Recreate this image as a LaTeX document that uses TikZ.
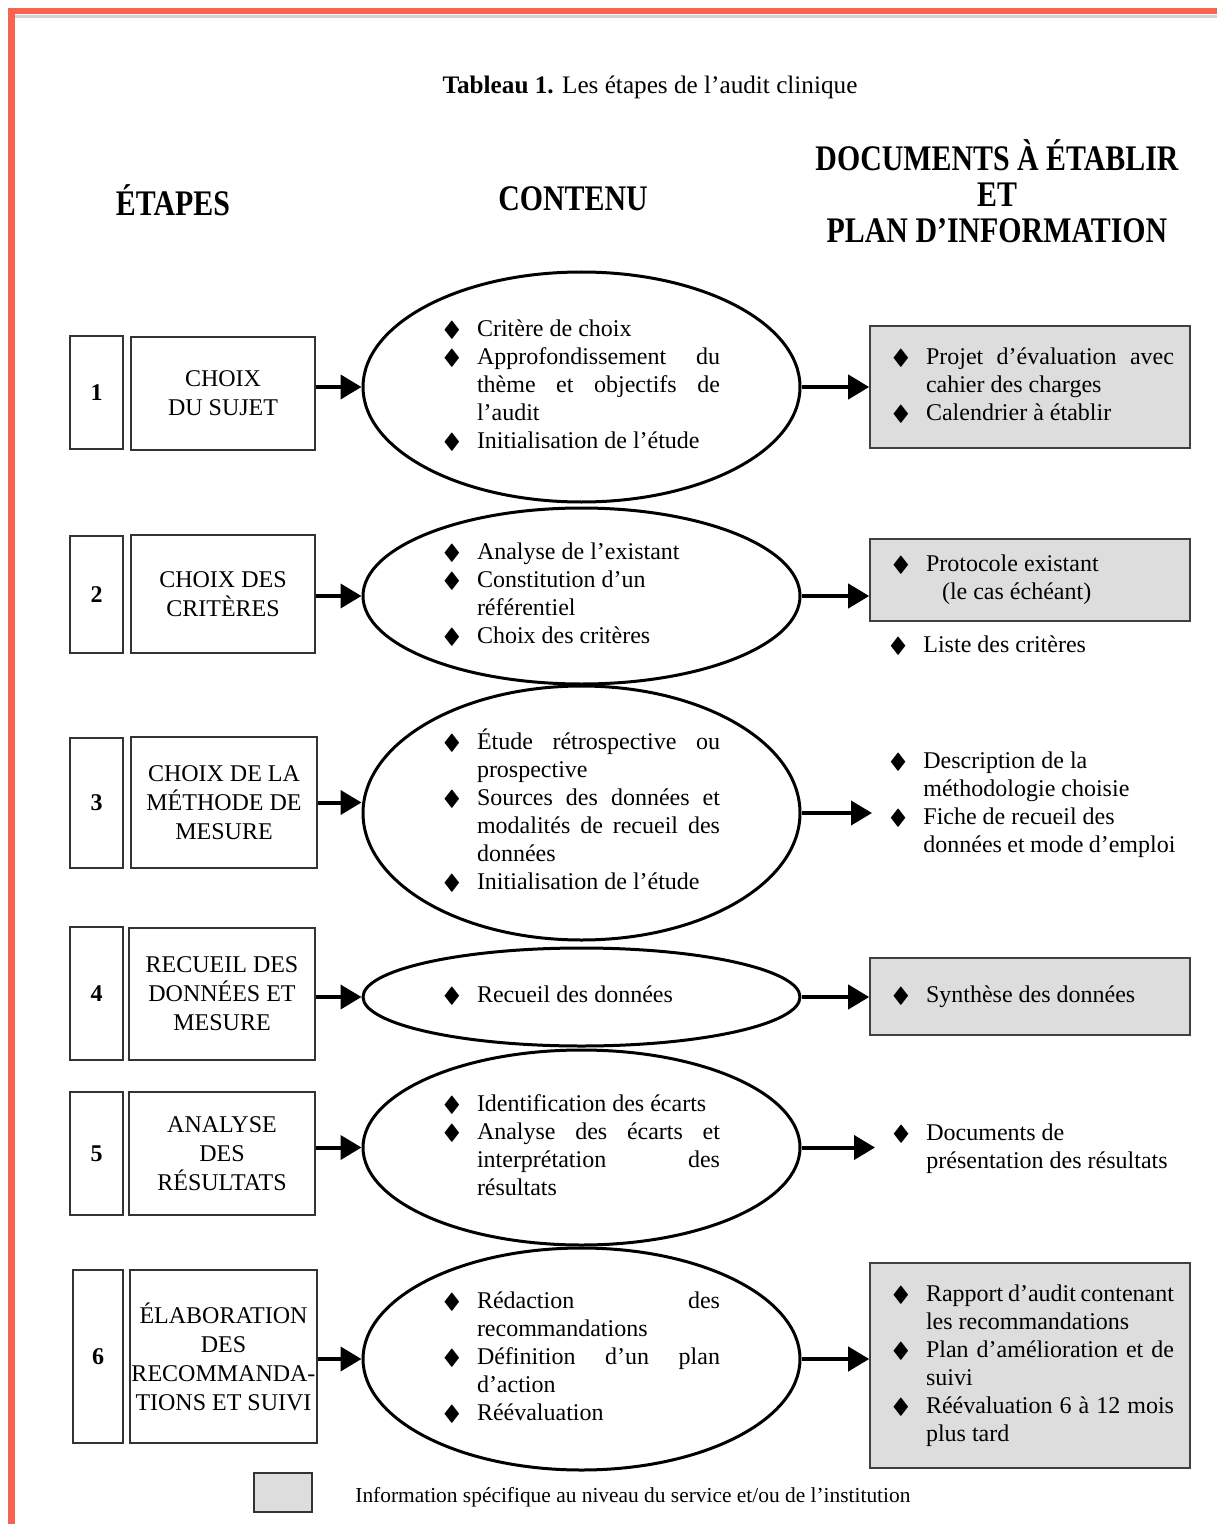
\documentclass[tikz,border=0pt]{standalone}
\usepackage{amssymb}
\usepackage{graphicx}
\usepackage{fontspec}
\setmainfont{Liberation Serif}
\usepackage{xcolor}
\usepackage{tikz}
\usetikzlibrary{shapes.geometric,arrows.meta}

\definecolor{bordure}{RGB}{247,101,82}
\definecolor{grisdoc}{RGB}{221,221,221}

\newcommand{\puce}{\scalebox{1.1}[0.9]{$\blacklozenge$}}
\newcommand{\etire}[2]{\makebox[#1][s]{#2}}
\newcommand{\entete}[1]{\scalebox{0.83}[1]{#1}}
\newenvironment{liste}[1]{\begin{tabular}{@{}p{17pt}@{}p{#1}@{}}}{\end{tabular}}

\begin{document}
\begin{tikzpicture}[x=0.5pt, y=-0.5pt,
  numbox/.style={draw=black!80, line width=0.8pt, minimum width=26.5pt, inner sep=0pt, font=\fontsize{12}{14}\selectfont\bfseries},
  etapebox/.style={draw=black!80, line width=0.8pt, inner sep=0pt, align=center, font=\fontsize{12}{14.5}\selectfont},
  contenu/.style={ellipse, draw, line width=1.5pt, minimum width=218.5pt, inner sep=0pt, font=\fontsize{12}{14}\selectfont},
  docbox/.style={draw=black!75, line width=0.8pt, fill=grisdoc, minimum width=160pt, font=\fontsize{12}{14}\selectfont},
  doctexte/.style={anchor=west, inner xsep=8.5pt, font=\fontsize{12}{14}\selectfont},
  fleche/.style={line width=2pt, -{Triangle[length=10.5pt, width=12pt]}},
  entete/.style={font=\fontsize{18}{18}\selectfont\bfseries, align=center}]
  \useasboundingbox (0,0) rectangle (1217,1524);

  % Frame
  \draw[gray!35, line width=1.2pt] (14,16.5) -- (1217,16.5);
  \draw[bordure, line width=3.25pt] (11.5,1524) -- (11.5,11) -- (1217,11);

  % Title and headers
  \node[font=\fontsize{12.6}{14}\selectfont] (titre) at (650,87) {\textbf{Tableau 1.} Les étapes de l'audit clinique};
  \node[entete] (hetapes) at (173,200) {\entete{ÉTAPES}};
  \node[entete] (hcontenu) at (573,199) {\entete{CONTENU}};
  \node[entete] (hdocs) at (997,191) {\entete{DOCUMENTS À ÉTABLIR}\\\entete{ET}\\\entete{PLAN D’INFORMATION}};

  % Row 1
  \node[numbox, minimum height=56.5pt] (num1) at (96.5,392.5) {1};
  \node[etapebox, minimum width=92pt, minimum height=56.5pt] (etape1) at (223,393.5) {CHOIX\\DU SUJET};
  \node[contenu, minimum height=115pt] (cont1) at (581.5,387) {\begin{liste}{121.5pt}
    \puce & Critère de choix\\
    \puce & \etire{121.5pt}{Approfondissement du}\\
          & \etire{121.5pt}{thème et objectifs de}\\
          & l’audit\\
    \puce & Initialisation de l’étude
  \end{liste}};
  \node[docbox, minimum height=61pt] (doc1) at (1030,387) {\hspace*{3pt}\begin{liste}{124pt}
    \puce & \etire{124pt}{Projet d’évaluation avec}\\
          & cahier des charges\\
    \puce & Calendrier à établir
  \end{liste}};
  \draw[fleche] (cont1.west -| etape1.east) -- (cont1.west);
  \draw[fleche] (cont1.east) -- (cont1.east -| doc1.west);

  % Row 2
  \node[numbox, minimum height=58.5pt] (num2) at (96.5,594.5) {2};
  \node[etapebox, minimum width=92pt, minimum height=59pt] (etape2) at (223,594) {CHOIX DES\\CRITÈRES};
  \node[contenu, minimum height=88pt] (cont2) at (581.5,596) {\begin{liste}{121.5pt}
    \puce & Analyse de l’existant\\
    \puce & Constitution d’un\\
          & référentiel\\
    \puce & Choix des critères
  \end{liste}};
  \node[docbox, minimum height=41pt] (doc2) at (1030,580) {\hspace*{3pt}\begin{liste}{124pt}
    \puce & Protocole existant\\
          & \hspace*{8pt}(le cas échéant)
  \end{liste}};
  \node[doctexte] (doc2b) at (872,647) {\begin{liste}{124pt}
    \puce & Liste des critères
  \end{liste}};
  \draw[fleche] (cont2.west -| etape2.east) -- (cont2.west);
  \draw[fleche] (cont2.east) -- (cont2.east -| doc2.west);

  % Row 3
  \node[numbox, minimum height=65pt] (num3) at (96.5,803) {3};
  \node[etapebox, minimum width=93pt, minimum height=65.5pt] (etape3) at (224,802.5) {CHOIX DE LA\\MÉTHODE DE\\MESURE};
  \node[contenu, minimum height=127pt] (cont3) at (581.5,813) {\begin{liste}{121.5pt}
    \puce & \etire{121.5pt}{Étude rétrospective ou}\\
          & prospective\\
    \puce & \etire{121.5pt}{Sources des données et}\\
          & \etire{121.5pt}{modalités de recueil des}\\
          & données\\
    \puce & Initialisation de l’étude
  \end{liste}};
  \node[doctexte] (doc3) at (872,805) {\begin{liste}{126pt}
    \puce & Description de la\\
          & méthodologie choisie\\
    \puce & Fiche de recueil des\\
          & données et mode d’emploi
  \end{liste}};
  \draw[fleche] (etape3.east) -- (etape3.east -| cont3.west);
  \draw[fleche] (cont3.east) -- (cont3.east -| doc3.west);

  % Row 4
  \node[numbox, minimum height=66.5pt] (num4) at (96.5,993.5) {4};
  \node[etapebox, minimum width=93pt, minimum height=66pt] (etape4) at (222,994) {RECUEIL DES\\DONNÉES ET\\MESURE};
  \node[contenu, minimum height=49pt] (cont4) at (581.5,997) {\begin{liste}{121.5pt}
    \puce & Recueil des données
  \end{liste}};
  \node[docbox, minimum height=38.5pt] (doc4) at (1030,996.5) {\hspace*{3pt}\begin{liste}{124pt}
    \puce & Synthèse des données
  \end{liste}};
  \draw[fleche] (cont4.west -| etape4.east) -- (cont4.west);
  \draw[fleche] (cont4.east) -- (cont4.east -| doc4.west);

  % Row 5
  \node[numbox, minimum height=61.5pt] (num5) at (96.5,1153.5) {5};
  \node[etapebox, minimum width=93pt, minimum height=61.5pt] (etape5) at (222,1153.5) {ANALYSE\\DES\\RÉSULTATS};
  \node[contenu, minimum height=97.5pt] (cont5) at (581.5,1147.5) {\begin{liste}{121.5pt}
    \puce & Identification des écarts\\
    \puce & \etire{121.5pt}{Analyse des écarts et}\\
          & \etire{121.5pt}{interprétation des}\\
          & résultats
  \end{liste}};
  \node[doctexte] (doc5) at (875,1148.5) {\begin{liste}{124pt}
    \puce & Documents de\\
          & présentation des résultats
  \end{liste}};
  \draw[fleche] (cont5.west -| etape5.east) -- (cont5.west);
  \draw[fleche] (cont5.east) -- (cont5.east -| doc5.west);

  % Row 6
  \node[numbox, minimum width=25pt, minimum height=86.5pt] (num6) at (98,1356.5) {6};
  \node[etapebox, minimum width=93.5pt, minimum height=86.5pt] (etape6) at (223.5,1356.5) {ÉLABORATION\\DES\\RECOMMANDA-\\TIONS ET SUIVI};
  \node[contenu, minimum height=111pt] (cont6) at (581.5,1359) {\begin{liste}{121.5pt}
    \puce & \etire{121.5pt}{Rédaction des}\\
          & recommandations\\
    \puce & \etire{121.5pt}{Définition d’un plan}\\
          & d’action\\
    \puce & Réévaluation
  \end{liste}};
  \node[docbox, minimum height=102.5pt] (doc6) at (1030,1365.5) {\hspace*{3pt}\begin{liste}{124pt}
    \puce & \etire{124pt}{Rapport d’audit contenant}\\
          & les recommandations\\
    \puce & \etire{124pt}{Plan d’amélioration et de}\\
          & suivi\\
    \puce & \etire{124pt}{Réévaluation 6 à 12 mois}\\
          & plus tard
  \end{liste}};
  \draw[fleche] (cont6.west -| etape6.east) -- (cont6.west);
  \draw[fleche] (cont6.east) -- (cont6.east -| doc6.west);

  % Legend
  \node[draw=black!80, line width=0.8pt, fill=grisdoc, minimum width=29pt, minimum height=19.5pt, inner sep=0pt] (legende) at (283,1492.5) {};
  \node[anchor=west, inner sep=0pt, font=\fontsize{10.7}{12}\selectfont] (legtexte) at (355,1497) {Information spécifique au niveau du service et/ou de l’institution};
\end{tikzpicture}
\end{document}
